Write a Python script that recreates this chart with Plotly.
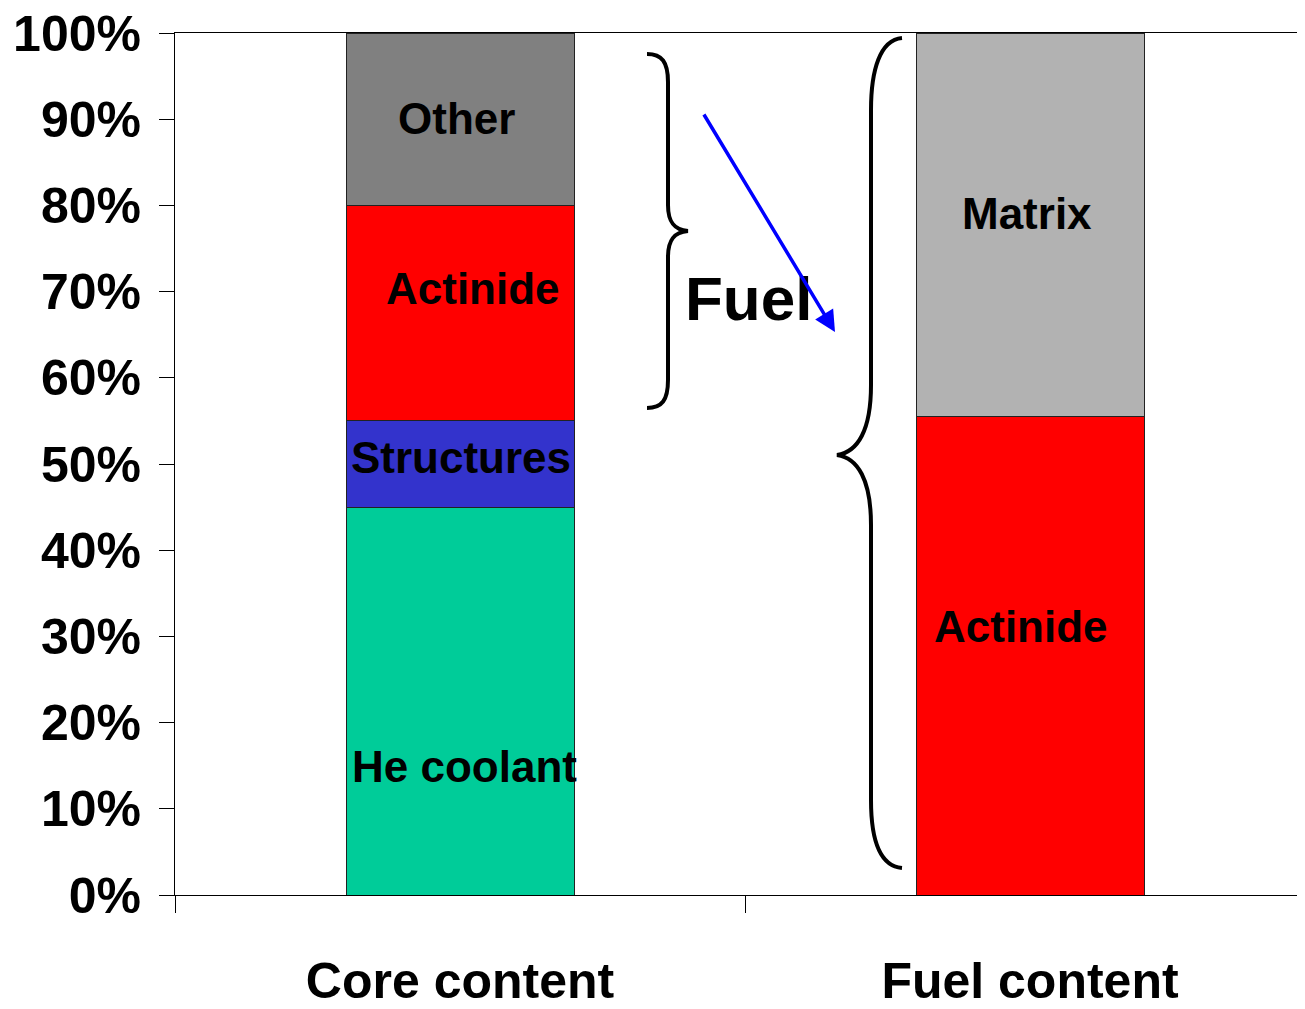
import plotly.graph_objects as go

categories = ["Core content", "Fuel content"]
he_coolant = [45, None]
structures = [10, None]
actinide = [25, 55.5]
other = [20, None]
matrix = [None, 44.5]
y_ticks = [0, 10, 20, 30, 40, 50, 60, 70, 80, 90, 100]
y_tick_text = [f"{v}%" for v in y_ticks]

FONT = "Liberation Sans, Arial, sans-serif"
OFF = 8  # page body margin
W, H = 1305 - OFF, 1009 - OFF
L, R, T, B = 175 - OFF, 0, 33 - OFF, 114
PW, PH = W - L - R, H - T - B
CAT_W = 570  # pixel width of one category slot (right slot runs past the edge)

# screen-pixel -> paper coordinates
def px(x):
    return (x - OFF - L) / PW

def py(y):
    return (H - B - (y - OFF)) / PH

fig = go.Figure()
outline = dict(color="#222222", width=1)
series = [
    ("He coolant", he_coolant, "#00CC99"),
    ("Structures", structures, "#3333CC"),
    ("Actinide", actinide, "#FF0000"),
    ("Other", other, "#808080"),
    ("Matrix", matrix, "#B2B2B2"),
]
for name, vals, col in series:
    fig.add_trace(go.Bar(x=categories, y=vals, name=name,
                         marker=dict(color=col, line=outline)))

fig.update_layout(
    barmode="stack", bargap=0.6, showlegend=False,
    width=W, height=H,
    margin=dict(l=L, r=R, t=T, b=B, autoexpand=False),
    plot_bgcolor="white", paper_bgcolor="white",
    font=dict(family=FONT, color="black"),
)
fig.update_yaxes(
    range=[0, 100], tickvals=y_ticks, ticktext=y_tick_text,
    ticks="outside", ticklen=15, tickcolor="black", tickwidth=1,
    showline=True, linecolor="black", linewidth=1,
    showgrid=False, zeroline=False, automargin=False,
    tickfont=dict(family=FONT, size=50, color="black", weight="bold"),
    ticklabelstandoff=8, ticklabeloverflow="allow",
)
fig.update_xaxes(
    range=[-0.5, -0.5 + PW / CAT_W], tickson="boundaries",
    ticks="outside", ticklen=17, tickcolor="black", tickwidth=1,
    showline=True, linecolor="black", linewidth=1, mirror=True,
    showgrid=False, automargin=False,
    tickfont=dict(family=FONT, size=50, color="black", weight="bold"),
    ticklabelstandoff=42, ticklabeloverflow="allow",
)

# labels inside bars (screen pixel positions of text centres)
labels = [
    ("Other", 456, 118),
    ("Actinide", 473, 288),
    ("Structures", 461, 457),
    ("He coolant", 464, 766),
    ("Matrix", 1027, 213),
    ("Actinide", 1021, 626),
]
for txt, x, y in labels:
    fig.add_annotation(x=px(x), y=py(y), xref="paper", yref="paper",
                       xanchor="center", yanchor="middle",
                       text=txt, showarrow=False,
                       font=dict(family=FONT, size=44, color="black", weight="bold"))

fig.add_annotation(x=px(748), y=py(298), xref="paper", yref="paper", text="Fuel",
                   xanchor="center", yanchor="middle", showarrow=False,
                   font=dict(family=FONT, size=62, color="black", weight="bold"))

# blue arrow
fig.add_annotation(x=px(835), y=py(332), xref="paper", yref="paper",
                   ax=703 - 835, ay=113 - 332, axref="pixel", ayref="pixel",
                   text="", showarrow=True, arrowhead=2, arrowsize=1.2,
                   arrowwidth=3.5, arrowcolor="#0000FF")

def P(x, y):
    return f"{px(x):.5f},{py(y):.5f}"

# right-facing brace "}"
b1 = (f"M {P(647,54)} C {P(662,54)} {P(668,62)} {P(668,82)} "
      f"L {P(668,205)} C {P(668,222)} {P(674,230)} {P(688,231)} "
      f"C {P(674,232)} {P(668,240)} {P(668,257)} "
      f"L {P(668,380)} C {P(668,400)} {P(662,408)} {P(647,408)}")
# left-facing brace "{"
b2 = (f"M {P(902,38)} C {P(880,40)} {P(871,70)} {P(871,110)} "
      f"L {P(871,385)} C {P(871,430)} {P(858,452)} {P(837,455)} "
      f"C {P(858,458)} {P(871,480)} {P(871,525)} "
      f"L {P(871,800)} C {P(871,840)} {P(880,866)} {P(902,868)}")
for path in (b1, b2):
    fig.add_shape(type="path", path=path, xref="paper", yref="paper",
                  line=dict(color="black", width=4))

fig.write_html("out.html")
